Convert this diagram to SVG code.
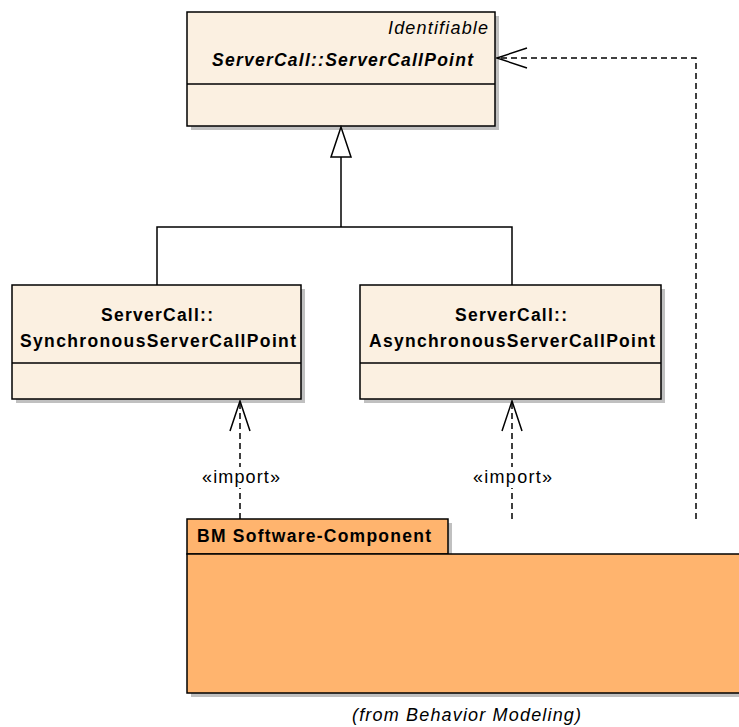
<svg xmlns="http://www.w3.org/2000/svg" width="739" height="727" viewBox="0 0 739 727">
<style>
text{font-family:"Liberation Sans",Arial,sans-serif;font-size:17.5px;fill:#000}
.cls{fill:#FBF0E1;stroke:#000;stroke-width:1.5}
.sh{fill:#C0C0C0}
.pkg{fill:#FFB46E;stroke:#000;stroke-width:1.5}
.ln{fill:none;stroke:#000;stroke-width:1.5}
.dash{fill:none;stroke:#000;stroke-width:1.5;stroke-dasharray:6,4}
.b{font-weight:bold}
.i{font-style:italic}
.sm{font-size:18px}
</style>
<defs>
<marker id="open" viewBox="0 0 32 22" refX="31" refY="11" markerWidth="32" markerHeight="22" markerUnits="userSpaceOnUse" orient="auto">
<path d="M1,1 L31,11 L1,21" fill="none" stroke="#000" stroke-width="1.5"/>
</marker>
</defs>
<g id="node-serverCallPoint">
<rect class="sh" x="191" y="16" width="308" height="114"/>
<rect class="cls" x="187" y="12" width="308" height="114"/>
<line class="ln" x1="187" y1="84" x2="495" y2="84"/>
<text class="i sm" x="388" y="34" textLength="100" lengthAdjust="spacing">Identifiable</text>
<text class="b i" x="212" y="66" textLength="261" lengthAdjust="spacing">ServerCall::ServerCallPoint</text>
</g>
<g id="node-sync">
<rect class="sh" x="16" y="289" width="289" height="114"/>
<rect class="cls" x="12" y="285" width="289" height="114"/>
<line class="ln" x1="12" y1="363" x2="301" y2="363"/>
<text class="b" x="101" y="321" textLength="112" lengthAdjust="spacing">ServerCall::</text>
<text class="b" x="20" y="347" textLength="276" lengthAdjust="spacing">SynchronousServerCallPoint</text>
</g>
<g id="node-async">
<rect class="sh" x="364" y="289" width="301" height="114"/>
<rect class="cls" x="360" y="285" width="301" height="114"/>
<line class="ln" x1="360" y1="363" x2="661" y2="363"/>
<text class="b" x="455" y="321" textLength="112" lengthAdjust="spacing">ServerCall::</text>
<text class="b" x="369" y="347" textLength="286" lengthAdjust="spacing">AsynchronousServerCallPoint</text>
</g>
<g id="node-package">
<rect class="sh" x="191" y="523" width="261" height="35"/>
<rect class="sh" x="191" y="558" width="560" height="139"/>
<rect class="pkg" x="187" y="519" width="261" height="35"/>
<rect class="pkg" x="187" y="554" width="560" height="139"/>
<text class="b" x="197" y="542" textLength="234" lengthAdjust="spacing">BM Software-Component</text>
<text class="i sm" x="352" y="721" textLength="229" lengthAdjust="spacing">(from Behavior Modeling)</text>
</g>
<g id="connectors">
<polyline class="ln" points="157,285 157,227 512,227 512,285"/>
<line class="ln" x1="341" y1="227" x2="341" y2="157"/>
<polygon points="341,127 331,157 351,157" fill="#fff" stroke="#000" stroke-width="1.5"/>
<line class="dash" x1="240" y1="519" x2="240" y2="401" marker-end="url(#open)"/>
<line class="dash" x1="512" y1="519" x2="512" y2="401" marker-end="url(#open)"/>
<polyline class="dash" points="696,519 696,58 497,58" marker-end="url(#open)"/>
<rect x="201" y="467" width="80" height="21" fill="#fff"/>
<text class="sm" x="202" y="483" textLength="78" lengthAdjust="spacing">«import»</text>
<rect x="472" y="467" width="81" height="21" fill="#fff"/>
<text class="sm" x="473" y="483" textLength="79" lengthAdjust="spacing">«import»</text>
</g>
</svg>
